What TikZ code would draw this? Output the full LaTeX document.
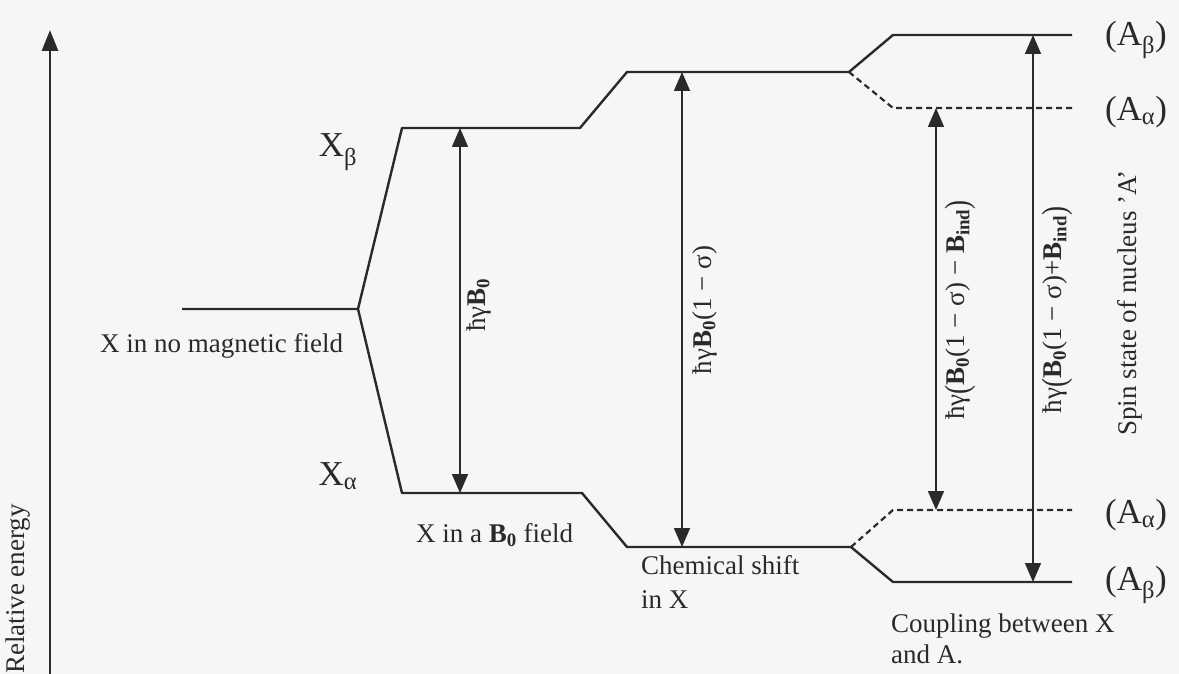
\documentclass[tikz,border=0pt]{standalone}
\usepackage{fontspec}
\setmainfont{Liberation Serif}
\usetikzlibrary{arrows.meta}
\definecolor{ink}{HTML}{2A2A2A}
\definecolor{paper}{HTML}{F6F6F6}
\newcommand{\bsub}[1]{\textsubscript{\textbf{#1}}}
\newcommand{\bigpar}[1]{\raisebox{-0.12em}{\scalebox{1}[1.25]{#1}}}
\begin{document}
\begin{tikzpicture}[x=1pt,y=-1pt,
  lvl/.style={line width=2.4pt, draw=ink, line join=round},
  dlvl/.style={line width=2.2pt, draw=ink, dash pattern=on 6pt off 4pt},
  gap/.style={line width=1.6pt, draw=ink, {Triangle[width=16pt,length=19pt]}-{Triangle[width=16pt,length=19pt]}},
  axis/.style={line width=2.8pt, draw=ink, -{Triangle[width=16pt,length=21pt]}},
  lab/.style={font=\fontsize{27}{34}\selectfont, text=ink, inner sep=0pt},
  big/.style={font=\fontsize{35}{40}\selectfont, text=ink, inner sep=0pt},
  rot/.style={lab, rotate=90},
]
\fill[paper] (0,0) rectangle (1179,674);
\useasboundingbox (0,0) rectangle (1179,674);

% energy axis
\coordinate (ax0) at (50,676);
\coordinate (ax1) at (50,30);
\draw[axis] (ax0) -- (ax1);
\node[rot, anchor=west] (relE) at (18,674) {Relative energy};

% level coordinates
\coordinate (z0) at (182,309);
\coordinate (z1) at (358,309);
\coordinate (xb0) at (402,128);
\coordinate (xb1) at (580,128);
\coordinate (xa0) at (402,493);
\coordinate (xa1) at (582,493);
\coordinate (cb0) at (627,72);
\coordinate (cb1) at (849,72);
\coordinate (ca0) at (627,547);
\coordinate (ca1) at (851,547);
\coordinate (tb0) at (893,35);
\coordinate (tb1) at (1072,35);
\coordinate (ta0) at (893,108);
\coordinate (ta1) at (1072,108);
\coordinate (ba0) at (893,510);
\coordinate (ba1) at (1072,510);
\coordinate (bb0) at (893,582);
\coordinate (bb1) at (1072,582);

\draw[lvl] (z0) -- (z1) -- (xb0) -- (xb1) -- (cb0) -- (cb1) -- (tb0) -- (tb1);
\draw[lvl] (z1) -- (xa0) -- (xa1) -- (ca0) -- (ca1) -- (bb0) -- (bb1);
\draw[dlvl] (cb1) -- (ta0) -- (ta1);
\draw[dlvl] (ca1) -- (ba0) -- (ba1);

% gap arrows
\coordinate (g1t) at (460,128);
\coordinate (g1b) at (460,493);
\coordinate (g2t) at (682,72);
\coordinate (g2b) at (682,547);
\coordinate (g3t) at (936,108);
\coordinate (g3b) at (936,510);
\coordinate (g4t) at (1033,35);
\coordinate (g4b) at (1033,582);
\draw[gap] (g1b) -- (g1t);
\draw[gap] (g2b) -- (g2t);
\draw[gap] (g3b) -- (g3t);
\draw[gap] (g4b) -- (g4t);

% rotated labels
\node[rot] (l1) at (479,305) {ħγ\textbf{B}\bsub{0}};
\node[rot] (l2) at (705,310) {ħγ\textbf{B}\bsub{0}(1 − σ)};
\node[rot] (l3) at (960,310) {ħγ\bigpar{(}\textbf{B}\bsub{0}(1 − σ) − \textbf{B}\bsub{ind}\bigpar{)}};
\node[rot] (l4) at (1057,310) {ħγ\bigpar{(}\textbf{B}\bsub{0}(1 − σ)+\textbf{B}\bsub{ind}\bigpar{)}};
\node[rot] (spin) at (1130,303) {Spin state of nucleus 'A'};

% level labels
\node[big] (Xb) at (338,152) {X\textsubscript{β}};
\node[big] (Xa) at (338,476) {X\textsubscript{α}};
\node[big] (Ab1) at (1136,40) {(A\textsubscript{β})};
\node[big] (Aa1) at (1136,112) {(A\textsubscript{α})};
\node[big] (Aa2) at (1136,515) {(A\textsubscript{α})};
\node[big] (Ab2) at (1136,585) {(A\textsubscript{β})};

% stage captions
\node[lab, anchor=base west] (c0) at (100,352) {X in no magnetic field};
\node[lab, anchor=base west] (c1) at (416,542) {X in a \textbf{B}\bsub{0} field};
\node[lab, anchor=north west, align=left] (c2) at (641,555) {Chemical shift\\in X};
\node[lab, anchor=north west, align=left, font=\fontsize{27}{31}\selectfont] (c3) at (891,614) {Coupling between X\\and A.};
\end{tikzpicture}
\end{document}
